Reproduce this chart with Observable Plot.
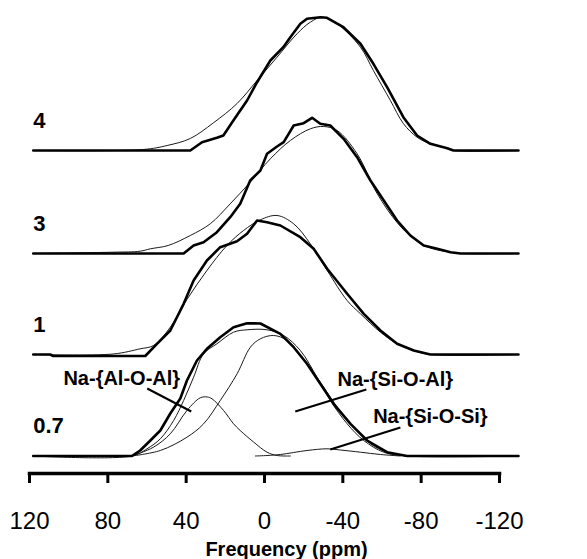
<!DOCTYPE html>
<html>
<head>
<meta charset="utf-8">
<script src="https://cdn.jsdelivr.net/npm/d3@7"></script>
<script src="https://cdn.jsdelivr.net/npm/@observablehq/plot@0.6"></script>
<style>
  html, body { margin: 0; padding: 0; background: #fff; }
</style>
</head>
<body>
<div id="chart"></div>
<script>
// ---------------- DATA ----------------
// x: frequency in ppm, value: intensity (a.u.)
const freqTicks = [120, 80, 40, 0, -40, -80, -120];
const spectrumLabels = ["4", "3", "1", "0.7"];
const componentNames = ["Na-{Al-O-Al}", "Na-{Si-O-Al}", "Na-{Si-O-Si}"];
const axisTitle = "Frequency (ppm)";

// spectrum "4"
const exp4 = [[118.1,0],[37.9,0],[31.9,8.3],[24.3,12.7],[21.0,15],[15.9,30],[8.9,50],[3.8,68.3],[-3.0,90],[-9.6,103.3],[-13.2,113.3],[-18.3,126.7],[-21.7,131.7],[-28.5,133.3],[-31.9,132.7],[-40.3,123.3],[-49.0,106.7],[-55.6,86.7],[-62.6,63.3],[-70.9,33.3],[-77.9,15],[-84.7,6.7],[-93.3,2.3],[-96.5,0],[-129.7,0]];
const sim4 = [[118.1,0],[61.9,1],[49.7,5],[37.9,12],[26.2,27.5],[14.0,47],[3.8,70],[-6.4,93.3],[-16.6,116.7],[-23.4,128.3],[-29.4,133.3],[-37.1,126.7],[-49.0,103.3],[-55.6,80],[-64.3,50],[-70.9,27],[-77.9,13.3],[-84.7,6.7],[-93.3,2.3],[-96.5,0],[-129.7,0]];

// spectrum "3"
const exp3 = [[118.1,0],[41.3,0],[36.2,8],[31.1,11.3],[24.3,21.3],[17.5,36.3],[12.4,49.7],[7.3,73],[2.1,83],[-1.3,99.7],[-6.4,107],[-9.8,111.3],[-14.9,128],[-20.0,130.3],[-24.3,135.7],[-28.5,129.7],[-33.6,128],[-40.4,114.7],[-47.3,96.3],[-54.1,73],[-60.9,53],[-67.7,33],[-74.5,18],[-81.3,8],[-88.2,4.7],[-95.0,1.3],[-100.1,0],[-129.7,0]];
const sim3 = [[118.1,0],[77.3,1.3],[63.5,2.3],[58.3,4.7],[49.2,8],[37.9,18],[27.7,29.7],[17.5,49.7],[7.3,71.3],[-3.0,94.7],[-13.2,113],[-23.4,124.7],[-30.2,127],[-37.1,123],[-47.3,99.7],[-57.5,60],[-67.7,31],[-76.2,14.7],[-84.7,5.5],[-95.0,1.3],[-100.1,0],[-129.7,0]];

// spectrum "1"
const exp1 = [[118.1,0],[109.4,0],[107.9,-1.5],[60.9,-1.5],[54.9,10.7],[48.1,24],[41.3,50.7],[36.2,74],[29.4,94],[22.6,107.3],[14.0,113.3],[8.9,120.7],[3.8,134],[-1.3,132.3],[-8.1,129],[-18.3,117.3],[-25.1,105.7],[-32.0,85.7],[-42.2,60.7],[-50.7,40.7],[-59.2,24],[-67.7,10.7],[-76.2,4],[-84.7,0],[-129.7,0]];
const sim1 = [[118.1,0],[77.3,0.5],[63.5,5.7],[56.7,9],[48.1,27.3],[39.6,55],[29.4,84],[19.2,109],[10.7,124],[2.1,134.7],[-6.4,139],[-14.9,130.7],[-23.4,110.7],[-32.0,84],[-42.2,54],[-49.0,40.7],[-59.2,22.3],[-67.7,10.7],[-76.2,4],[-84.7,0],[-129.7,0]];

// spectrum "0.7" with its decomposition
const exp07 = [[118.1,0],[67.7,0],[63.5,5.5],[58.3,15.5],[53.2,25.5],[48.1,42.5],[43.0,57.5],[39.6,75.5],[34.5,95.5],[29.4,107.2],[22.6,118.8],[15.8,128.8],[8.9,132.8],[2.1,132.5],[-8.1,122.2],[-14.9,108.8],[-21.7,92.2],[-28.5,72.2],[-35.3,52.2],[-43.9,32.2],[-52.4,15.5],[-62.6,3.8],[-72.8,0],[-129.7,0]];
const sim07 = [[118.1,0],[67.7,0],[60.0,7.2],[53.2,17.2],[46.4,35.5],[41.3,55.5],[36.2,78.8],[31.1,102.2],[24.3,112.2],[15.8,123.8],[8.9,126.2],[-1.3,126.2],[-9.8,120.5],[-18.3,105.5],[-26.8,78.8],[-33.6,55.5],[-42.2,32.2],[-50.7,15.5],[-60.9,3.8],[-72.8,0],[-129.7,0]];
const compAlOAl = [[67.7,0],[56.7,8.8],[48.1,22.2],[39.6,45.5],[32.8,58.2],[29.2,59],[26.8,57.2],[20.9,45.5],[15.8,32.2],[12.4,25.5],[5.6,14],[-1.3,3.8],[-6.4,0.5],[-13.2,0]];
const compSiOAl = [[67.7,0],[53.2,5.5],[39.6,18.8],[31.1,32.2],[22.6,55.5],[14.0,82.2],[7.2,108.8],[2.1,117.2],[-4.7,120.5],[-11.5,115.5],[-21.7,92.2],[-28.5,73.8],[-37.1,48.8],[-45.6,28.8],[-54.1,12.2],[-62.6,3.8],[-72.8,0]];
const compSiOSi = [[4.7,0],[-1.3,0.5],[-8.1,1.5],[-21.7,5.5],[-31.9,7.2],[-38.7,6],[-49.0,3.8],[-59.2,1.5],[-69.4,0]];

// ---------------- LAYOUT ----------------
const stackOffset = {"4": 305.5, "3": 202.5, "1": 101.5, "0.7": 0}; // vertical stacking of spectra
const axisBase = -17.5;                                              // where the frequency axis sits
const spectra = [
  {label: spectrumLabels[0], exp: exp4, sim: [sim4]},
  {label: spectrumLabels[1], exp: exp3, sim: [sim3]},
  {label: spectrumLabels[2], exp: exp1, sim: [sim1]},
  {label: spectrumLabels[3], exp: exp07, sim: [sim07, compAlOAl, compSiOAl, compSiOSi]}
];
// annotation placement (ppm, intensity above the 0.7 baseline)
const annotations = [
  {name: componentNames[0], tx: 72.9, ty: 77.5, x1: 59.9, y1: 67.5, x2: 37.4, y2: 44.5},
  {name: componentNames[1], tx: -66.8, ty: 76.5, x1: -52.0, y1: 66.5, x2: -15.7, y2: 44.5},
  {name: componentNames[2], tx: -84.7, ty: 39.5, x1: -69.4, y1: 28.5, x2: -33.6, y2: 6.5}
];

const rows = (arr, off) => arr.map(([ppm, v]) => ({ppm, y: v + off}));

const marks = [];
for (const s of spectra) {
  const off = stackOffset[s.label];
  for (const sim of s.sim) {
    marks.push(Plot.line(rows(sim, off), {x: "ppm", y: "y", stroke: "#1a1a1a", strokeWidth: 1, curve: "catmull-rom"}));
  }
  marks.push(Plot.line(rows(s.exp, off), {x: "ppm", y: "y", stroke: "#000", strokeWidth: 2.6, curve: "linear", strokeLinejoin: "round"}));
}

marks.push(
  Plot.text(spectra, {
    x: d => d.exp[0][0], y: d => stackOffset[d.label], text: "label",
    dy: -30, textAnchor: "start", fontWeight: "bold", fontSize: 22, fill: "#000"
  }),
  Plot.link(annotations, {x1: "x1", y1: "y1", x2: "x2", y2: "y2", stroke: "#000", strokeWidth: 2}),
  Plot.text(annotations, {x: "tx", y: "ty", text: "name", fontSize: 20, fontWeight: "bold", fill: "#000"}),
  Plot.frame({anchor: "bottom", stroke: "#000", strokeWidth: 3.5}),
  Plot.axisX({
    ticks: freqTicks, tickSize: 10, tickPadding: 28, strokeWidth: 3,
    fontSize: 24, tickFormat: d => String(d), label: null, stroke: "#000", fill: "#000"
  }),
  Plot.text([axisTitle], {
    frameAnchor: "bottom", lineAnchor: "top", dy: 68, dx: 22,
    text: d => d, fontSize: 20, fontWeight: "bold", fill: "#000"
  })
);

const chart = Plot.plot({
  width: 587,
  height: 559,
  marginLeft: 29,
  marginRight: 88,
  marginTop: 0,
  marginBottom: 86,
  x: {domain: [120, -120], axis: null},
  y: {domain: [axisBase, 455.5], axis: null},
  style: {fontFamily: '"Liberation Sans", Arial, Helvetica, sans-serif', background: "#fff", color: "#000", overflow: "visible"},
  marks
});
document.getElementById("chart").append(chart);
</script>
</body>
</html>
